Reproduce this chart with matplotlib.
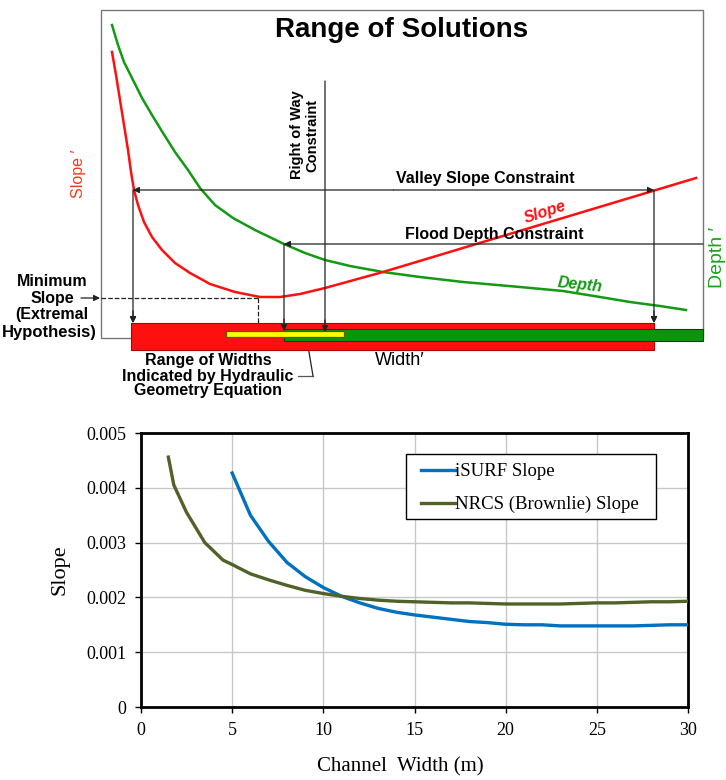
import matplotlib
matplotlib.use('Agg')
import matplotlib.pyplot as plt
from matplotlib.patches import Rectangle

# ---------------- data: lower chart ----------------
isurf_width = [5, 6, 7, 8, 9, 10, 11, 12, 13, 14, 15, 16, 17, 18, 19, 20,
               21, 22, 23, 24, 25, 26, 27, 28, 29, 30]
isurf_slope = [0.00427, 0.0035, 0.00302, 0.00264, 0.00238, 0.00218, 0.00202,
               0.0019, 0.0018, 0.00173, 0.00168, 0.00164, 0.0016, 0.00156,
               0.00154, 0.00151, 0.0015, 0.0015, 0.00148, 0.00148, 0.00148,
               0.00148, 0.00148, 0.00149, 0.0015, 0.0015]
nrcs_width = [1.5, 1.8, 2.5, 3.5, 4.5, 5, 6, 7, 8, 9, 10, 11, 12, 13, 14, 15,
              16, 17, 18, 19, 20, 21, 22, 23, 24, 25, 26, 27, 28, 29, 30]
nrcs_slope = [0.00456, 0.00405, 0.00355, 0.003, 0.00268, 0.0026, 0.00243,
              0.00232, 0.00222, 0.00213, 0.00207, 0.00202, 0.00198, 0.00195,
              0.00193, 0.00192, 0.00191, 0.0019, 0.0019, 0.00189, 0.00188,
              0.00188, 0.00188, 0.00188, 0.00189, 0.0019, 0.0019, 0.00191,
              0.00192, 0.00192, 0.00193]
y_ticks = [0, 0.001, 0.002, 0.003, 0.004, 0.005]
y_tick_labels = ['0', '0.001', '0.002', '0.003', '0.004', '0.005']
x_ticks = [0, 5, 10, 15, 20, 25, 30]

# ---------------- data: upper sketch (sketch units, y grows downward) ------
slope_curve_w = [112, 116, 120, 124, 128, 131, 134, 138, 144, 152, 162, 175,
                 190, 210, 235, 260, 280, 300, 325, 383, 696]
slope_curve_s = [52, 75, 100, 125, 150, 172, 190, 205, 222, 237, 250, 263,
                 273, 284, 292, 297, 297, 294, 288, 272, 178]
depth_curve_w = [112, 118, 124, 133, 142, 152, 163, 175, 188, 200, 215, 233,
                 255, 284, 305, 325, 350, 383, 420, 463, 520, 563, 600, 630,
                 660, 686]
depth_curve_d = [25, 45, 62, 80, 98, 115, 133, 152, 170, 188, 205, 218, 230,
                 244, 253, 260, 266, 272, 277, 282, 287, 291, 297, 302, 306,
                 310]
valley_slope_w = (133, 654)
valley_slope_s = 190
flood_depth_w = 284
flood_depth_d = 244
right_of_way_w = 325
min_slope_point = (258, 298)
red_widths = (131, 654)
green_widths = (284, 703)
yellow_widths = (226, 344)

RED = '#FF1010'
GREEN = '#129A12'
sans = ['Liberation Sans', 'DejaVu Sans']
serif = ['Liberation Serif', 'DejaVu Serif']
LBL = 11.5

fig = plt.figure(figsize=(7.26, 7.8), dpi=100)

# ======================= upper: Range of Solutions =======================
ax = fig.add_axes([0, 380 / 780, 1, 400 / 780])
ax.set_xlim(0, 726)
ax.set_ylim(400, 0)
ax.axis('off')

ax.add_patch(Rectangle((101, 10), 602, 328, fill=False, edgecolor='#777777', lw=1.0, zorder=1))
ax.text(402, 30, 'Range of Solutions', family=sans, fontsize=20, fontweight='bold',
        ha='center', va='center')

ax.plot(depth_curve_w, depth_curve_d, color=GREEN, lw=1.8, zorder=3)
ax.plot(slope_curve_w, slope_curve_s, color=RED, lw=1.8, zorder=3)

arrow = dict(arrowstyle='-|>', color='#222222', lw=0.9, mutation_scale=9, shrinkA=0, shrinkB=0)

def arr(x0, y0, x1, y1):
    ax.annotate('', xy=(x1, y1), xytext=(x0, y0), arrowprops=arrow, zorder=4)

# valley slope constraint
vmid = (valley_slope_w[0] + valley_slope_w[1]) / 2
arr(vmid, valley_slope_s, valley_slope_w[0], valley_slope_s)
arr(vmid, valley_slope_s, valley_slope_w[1], valley_slope_s)
arr(valley_slope_w[0], valley_slope_s, valley_slope_w[0], 323)
arr(valley_slope_w[1], valley_slope_s, valley_slope_w[1], 323)
ax.text(485, 179, 'Valley Slope Constraint', family=sans, fontsize=LBL,
        fontweight='bold', ha='center', va='center')

# flood depth constraint
arr(703, flood_depth_d, flood_depth_w, flood_depth_d)
arr(flood_depth_w, flood_depth_d, flood_depth_w, 331)
ax.text(494, 235, 'Flood Depth Constraint', family=sans, fontsize=LBL,
        fontweight='bold', ha='center', va='center')

# right of way constraint
arr(right_of_way_w, 81, right_of_way_w, 332)
ax.text(305, 135, 'Right of Way\nConstraint', family=sans, fontsize=10.5, fontweight='bold',
        rotation=90, ha='center', va='center', linespacing=1.1)

# minimum slope
mx, my = min_slope_point
ax.plot([101, mx], [my, my], ls='--', color='#222222', lw=0.9, zorder=2)
ax.plot([mx, mx], [my, 323], ls='--', color='#222222', lw=0.9, zorder=2)
arr(81, my, 100, my)
ax.text(52, 282, 'Minimum', family=sans, fontsize=LBL, fontweight='bold', ha='center', va='center')
ax.text(52, 299, 'Slope', family=sans, fontsize=LBL, fontweight='bold', ha='center', va='center')
ax.text(52, 315, '(Extremal', family=sans, fontsize=LBL, fontweight='bold', ha='center', va='center')
ax.text(97, 332, 'Hypothesis)', family=sans, fontsize=12, fontweight='bold', ha='right', va='center')

# width bars
ax.add_patch(Rectangle((red_widths[0], 323), red_widths[1] - red_widths[0], 27,
                       facecolor=RED, edgecolor='#B00000', lw=0.8, zorder=5))
ax.add_patch(Rectangle((green_widths[0], 329), green_widths[1] - green_widths[0], 12,
                       facecolor='#0A960A', edgecolor='#1A3A1A', lw=0.8, zorder=6))
ax.add_patch(Rectangle((yellow_widths[0], 331), yellow_widths[1] - yellow_widths[0], 6,
                       facecolor='#FFFF00', edgecolor='#5A5A00', lw=0.9, zorder=7))
# arrow tips on top of bars
for xw, yb in [(valley_slope_w[0], 323), (valley_slope_w[1], 323), (flood_depth_w, 331), (right_of_way_w, 332)]:
    ax.annotate('', xy=(xw, yb), xytext=(xw, yb - 12), arrowprops=arrow, zorder=8)

# axis names
ax.text(78, 174, 'Slope \u2032', family=sans, fontsize=11.5, color='#F23A1E', rotation=90,
        ha='center', va='center')
ax.text(717, 257, 'Depth \u2032', family=sans, fontsize=14, color='#1AA51A', rotation=90,
        ha='center', va='center')
ax.text(400, 365, 'Width\u2032', family=sans, fontsize=13, ha='center', va='baseline', zorder=9)

# curve labels
ax.text(545, 212, 'Slope', family=sans, fontsize=LBL, fontweight='bold', fontstyle='italic',
        color=RED, rotation=18, ha='center', va='center')
ax.text(580, 285, 'Depth', family=sans, fontsize=LBL, fontweight='bold', fontstyle='italic',
        color=GREEN, rotation=-6, ha='center', va='center')

# hydraulic geometry range
ax.text(208, 376, 'Range of Widths\nIndicated by Hydraulic\nGeometry Equation', family=sans,
        fontsize=LBL, fontweight='bold', ha='center', va='center', linespacing=1.0)
ax.plot([298, 313], [376, 376], color='#555555', lw=0.9)
arr(313, 376, 307, 340)

# ======================= lower: slope vs channel width =======================
bx = fig.add_axes([141 / 726, 73 / 780, 547 / 726, 274 / 780])
bx.plot(isurf_width, isurf_slope, color='#0070C0', lw=2.4, label='iSURF Slope', zorder=3)
bx.plot(nrcs_width, nrcs_slope, color='#4F6228', lw=2.4, label='NRCS (Brownlie) Slope', zorder=3)
bx.set_xlim(0, 30)
bx.set_ylim(0, 0.005)
bx.set_xticks(x_ticks)
bx.set_yticks(y_ticks)
bx.set_yticklabels(y_tick_labels)
bx.grid(True, color='#C8C8C8', lw=1.0)
bx.set_axisbelow(True)
for s in bx.spines.values():
    s.set_linewidth(2.0)
    s.set_color('black')
bx.tick_params(direction='out', length=4.5, width=1.0, labelsize=13, pad=6)
for lab in bx.get_xticklabels() + bx.get_yticklabels():
    lab.set_family(serif)
bx.set_ylabel('Slope', family=serif, fontsize=16, labelpad=12)
bx.set_xlabel('Channel  Width (m)', family=serif, fontsize=15)
bx.xaxis.set_label_coords(0.4735, -0.185)

# legend box drawn separately so the inner padding can match the original
bx.add_patch(Rectangle((0.4845, 0.686), 0.457, 0.2374, transform=bx.transAxes,
                       facecolor='white', edgecolor='black', lw=1.0, zorder=5))
leg = bx.legend(loc='upper left', bbox_to_anchor=(0.5119, 0.8906), prop={'family': serif, 'size': 13.5},
                frameon=False, handlelength=1.8, handletextpad=0.0,
                borderpad=0, labelspacing=0.85, borderaxespad=0)
leg.set_zorder(6)

fig.savefig('out.png', dpi=100)
